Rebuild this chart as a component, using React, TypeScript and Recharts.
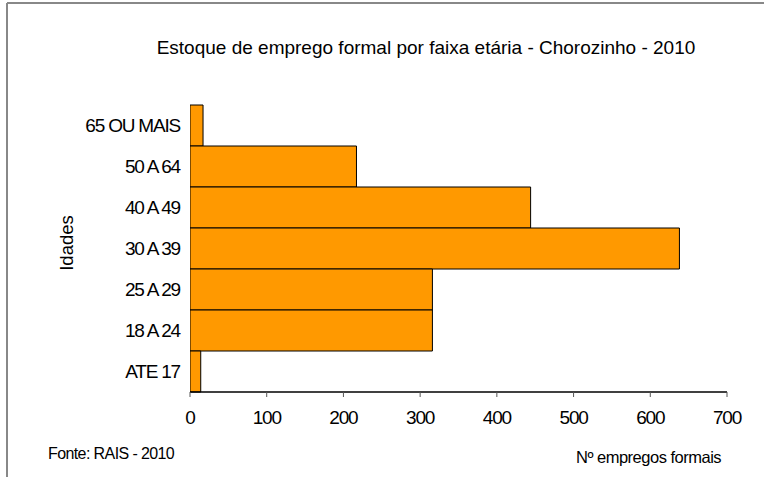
import React from 'react';
import { BarChart, Bar, XAxis, YAxis } from 'recharts';

// Estoque de emprego formal por faixa etária - Chorozinho - 2010
const categories = ['65 OU MAIS', '50 A 64', '40 A 49', '30 A 39', '25 A 29', '18 A 24', 'ATE 17'];
const values = [17, 217, 444, 638, 316, 316, 14];
const xTicks = [0, 100, 200, 300, 400, 500, 600, 700];
const bandEdges = [0, 1, 2, 3, 4, 5, 6, 7];

const data = categories.map((faixa, i) => ({ faixa, empregos: values[i] }));

const FONT = '"Liberation Sans", Arial, sans-serif';

const App: React.FC = () => {
  return (
    <div
      style={{
        position: 'absolute',
        left: 0,
        top: 0,
        width: 764,
        height: 477,
        background: '#fff',
        fontFamily: FONT,
        overflow: 'hidden',
      }}
    >
      <BarChart
        width={764}
        height={477}
        data={data}
        layout="vertical"
        barCategoryGap={0}
        margin={{ top: 105, right: 37, bottom: 55, left: 0 }}
      >
        {/* little ticks on the band edges, like the original */}
        <YAxis
          yAxisId="edge"
          type="number"
          domain={[0, 7]}
          ticks={bandEdges}
          allowDataOverflow
          width={0}
          tickSize={5}
          tickFormatter={() => ''}
          axisLine={{ stroke: '#000', strokeWidth: 1.5 }}
          tickLine={{ stroke: '#555' }}
        />
        <YAxis
          yAxisId="cat"
          type="category"
          dataKey="faixa"
          width={190}
          axisLine={false}
          tickLine={false}
          tickSize={0}
          tickMargin={10}
          interval={0}
          tick={{ fill: '#000', fontSize: 19, fontFamily: FONT, letterSpacing: -1.2 }}
        />
        <XAxis
          type="number"
          domain={[0, 700]}
          ticks={xTicks}
          interval={0}
          allowDataOverflow
          height={30}
          tickSize={5}
          tickMargin={14}
          axisLine={{ stroke: '#000', strokeWidth: 1.5 }}
          tickLine={{ stroke: '#555' }}
          tick={{ fill: '#000', fontSize: 19, fontFamily: FONT, letterSpacing: -1.2 }}
        />
        <Bar
          yAxisId="cat"
          dataKey="empregos"
          fill="#FF9900"
          stroke="#000"
          strokeWidth={1}
          isAnimationActive={false}
        />
      </BarChart>
      <svg
        width={764}
        height={477}
        style={{ position: 'absolute', left: 0, top: 0, pointerEvents: 'none' }}
      >
        <line x1={7} y1={3} x2={764} y2={3} stroke="#888" strokeWidth={2} />
        <line x1={7} y1={3} x2={7} y2={477} stroke="#888" strokeWidth={2} />
        <text x={426} y={54} textAnchor="middle" fontSize={19} fontFamily={FONT} fill="#000">
          Estoque de emprego formal por faixa etária - Chorozinho - 2010
        </text>
        <text
          x={73}
          y={243}
          textAnchor="middle"
          fontSize={18.5}
          fontFamily={FONT}
          fill="#000"
          transform="rotate(-90 73 243)"
        >
          Idades
        </text>
        <text x={48} y={459} fontSize={16} fontFamily={FONT} fill="#000" letterSpacing={-0.6}>
          Fonte: RAIS - 2010
        </text>
        <text x={576} y={463} fontSize={16.5} fontFamily={FONT} fill="#000" letterSpacing={-0.5}>
          Nº empregos formais
        </text>
      </svg>
    </div>
  );
};

export default App;
